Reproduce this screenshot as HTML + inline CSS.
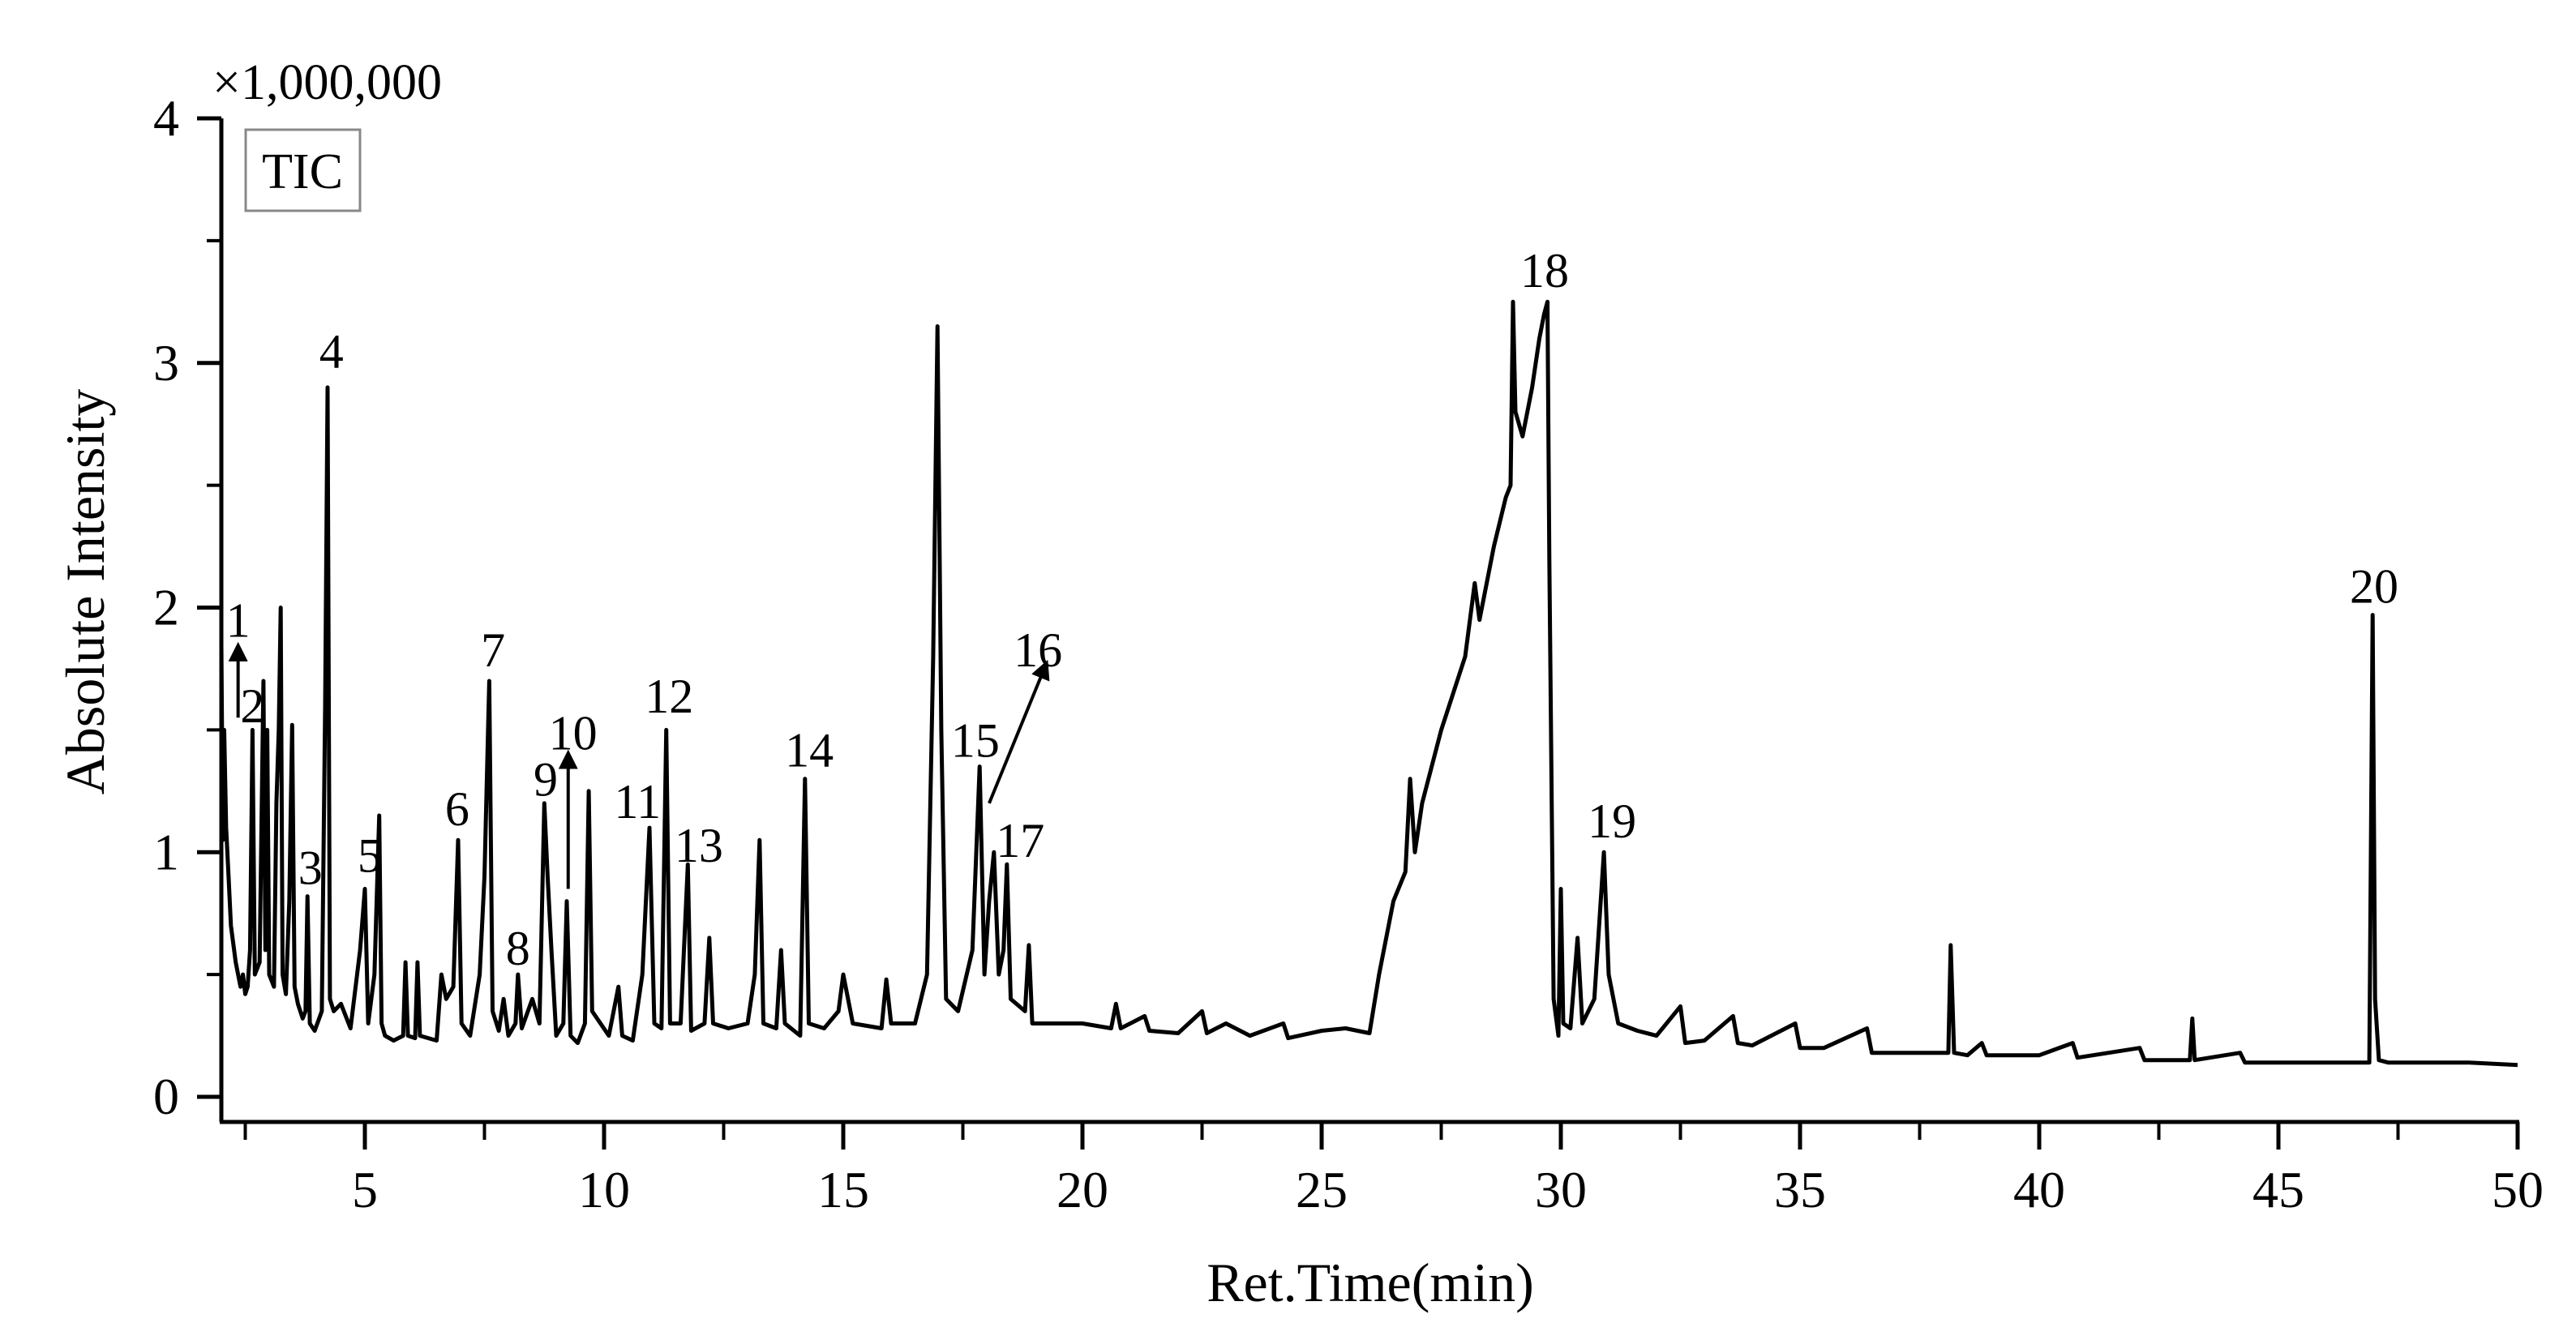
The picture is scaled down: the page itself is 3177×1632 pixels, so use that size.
<!DOCTYPE html>
<html><head><meta charset="utf-8"><style>
html,body{margin:0;padding:0;background:#fff;}
svg{display:block;font-family:"Liberation Serif",serif;}
</style></head><body>
<svg id="chart" width="3177" height="1632" viewBox="0 0 3177 1632">
<g id="axes"></g>
<g id="trace"></g>
<g id="labels"></g>
<text x="262" y="122" font-size="62">×1,000,000</text>
<rect x="303" y="160" width="141" height="100" fill="#fff" stroke="#888" stroke-width="3"/>
<text x="373" y="232" font-size="62" text-anchor="middle">TIC</text>
<text transform="translate(128,730) rotate(-90)" font-size="68" text-anchor="middle">Absolute Intensity</text>
<text x="1690" y="1605" font-size="68" text-anchor="middle">Ret.Time(min)</text>
</svg>
<script>
const xTicks=[5,10,15,20,25,30,35,40,45,50];
const yTicks=[0,1,2,3,4];
const times=[
2.0,2.03,2.06,2.1,2.15,2.2,2.3,2.4,2.45,2.5,
2.55,2.6,2.65,2.7,2.8,2.88,2.92,2.96,3.0,3.1,
3.15,3.2,3.24,3.28,3.35,3.42,3.48,3.53,3.6,3.7,
3.76,3.8,3.85,3.95,4.1,4.17,4.22,4.27,4.35,4.5,
4.7,4.9,5.0,5.07,5.2,5.3,5.35,5.42,5.6,5.8,
5.85,5.9,6.05,6.1,6.15,6.5,6.6,6.7,6.85,6.95,
7.02,7.2,7.4,7.5,7.6,7.67,7.8,7.9,8.0,8.15,
8.2,8.28,8.5,8.65,8.75,8.82,8.9,9.0,9.15,9.22,
9.3,9.45,9.6,9.68,9.75,10.1,10.3,10.38,10.6,10.8,
10.95,11.05,11.2,11.3,11.38,11.6,11.75,11.82,12.1,12.2,
12.28,12.6,13.0,13.15,13.25,13.33,13.6,13.7,13.78,14.1,
14.2,14.28,14.6,14.9,15.0,15.2,15.8,15.9,16.0,16.5,
16.75,16.88,16.97,17.05,17.15,17.4,17.7,17.85,17.95,18.05,
18.15,18.25,18.35,18.42,18.5,18.8,18.88,18.95,19.5,20.0,
20.6,20.7,20.8,21.3,21.4,22.0,22.5,22.6,23.0,23.5,
24.2,24.3,25.0,25.5,26.0,26.2,26.5,26.75,26.85,26.95,
27.1,27.5,28.0,28.2,28.3,28.6,28.85,28.95,29.0,29.05,
29.2,29.4,29.55,29.65,29.72,29.76,29.85,29.95,30.0,30.05,
30.2,30.35,30.45,30.7,30.9,31.0,31.2,31.6,32.0,32.5,
32.6,33.0,33.6,33.7,34.0,34.9,35.0,35.5,36.4,36.5,
37.5,38.1,38.15,38.22,38.5,38.8,38.9,40.0,40.7,40.8,
42.1,42.2,43.15,43.2,43.25,44.2,44.3,45.5,46.5,46.9,
46.97,47.02,47.1,47.3,48.0,49.0,50.0];
const intensity=[
1.85,1.05,1.5,1.1,0.9,0.7,0.55,0.45,0.5,0.42,
0.45,0.6,1.5,0.5,0.55,1.7,0.6,1.5,0.5,0.45,
1.2,1.5,2.0,0.5,0.42,0.8,1.52,0.45,0.38,0.32,
0.35,0.82,0.3,0.27,0.35,1.6,2.9,0.4,0.35,0.38,
0.28,0.6,0.85,0.3,0.5,1.15,0.3,0.25,0.23,0.25,
0.55,0.25,0.24,0.55,0.25,0.23,0.5,0.4,0.45,1.05,
0.3,0.25,0.5,0.9,1.7,0.35,0.27,0.4,0.25,0.3,
0.5,0.28,0.4,0.3,1.2,0.9,0.6,0.25,0.3,0.8,
0.25,0.22,0.3,1.25,0.35,0.25,0.45,0.25,0.23,0.5,
1.1,0.3,0.28,1.5,0.3,0.3,0.95,0.27,0.3,0.65,
0.3,0.28,0.3,0.5,1.05,0.3,0.28,0.6,0.3,0.25,
1.3,0.3,0.28,0.35,0.5,0.3,0.28,0.48,0.3,0.3,
0.5,1.8,3.15,1.5,0.4,0.35,0.6,1.35,0.5,0.8,
1.0,0.5,0.6,0.95,0.4,0.35,0.62,0.3,0.3,0.3,
0.28,0.38,0.28,0.33,0.27,0.26,0.35,0.26,0.3,0.25,
0.3,0.24,0.27,0.28,0.26,0.5,0.8,0.92,1.3,1.0,
1.2,1.5,1.8,2.1,1.95,2.25,2.45,2.5,3.25,2.8,
2.7,2.9,3.1,3.2,3.25,2.2,0.4,0.25,0.85,0.3,
0.28,0.65,0.3,0.4,1.0,0.5,0.3,0.27,0.25,0.37,
0.22,0.23,0.33,0.22,0.21,0.3,0.2,0.2,0.28,0.18,
0.18,0.18,0.62,0.18,0.17,0.22,0.17,0.17,0.22,0.16,
0.2,0.15,0.15,0.32,0.15,0.18,0.14,0.14,0.14,0.14,
1.97,0.4,0.15,0.14,0.14,0.14,0.13];
const peakNames=["1","2","3","4","5","6","7","8","9","10","11","12","13","14","15","16","17","18","19","20"];
const peakLabelT=[2.35,2.65,3.86,4.3,5.1,6.93,7.68,8.2,8.78,9.35,10.7,11.36,11.98,14.29,17.76,19.07,18.7,29.66,31.07,47.0];
const peakLabelV=[1.95,1.6,0.94,3.05,0.99,1.18,1.83,0.61,1.3,1.49,1.21,1.64,1.03,1.42,1.46,1.83,1.05,3.38,1.13,2.09];
const NS="http://www.w3.org/2000/svg";
const X0=273,X1=3105,YB=1384,T0=2,T1=50;
function sx(t){return X0+(t-T0)*(X1-X0)/(T1-T0);}
function sy(v){return 1353-v*301.75;}
function mk(tag,attrs,parent){const e=document.createElementNS(NS,tag);for(const k in attrs)e.setAttribute(k,attrs[k]);parent.appendChild(e);return e;}
const axes=document.getElementById('axes');
let l=mk('line',{x1:X0,y1:sy(4),x2:X0,y2:YB,stroke:'#000','stroke-width':5},axes);


l=mk('line',{x1:X0-2,y1:YB,x2:X1+2,y2:YB,stroke:'#000','stroke-width':5},axes);


for(const v of yTicks){
 const y=sy(v);
 const t=mk('line',{x1:X0-30,y1:y,x2:X0,y2:y,stroke:'#000','stroke-width':5},axes);
 
 
 const tx=mk('text',{x:X0-52,y:y+21,'font-size':64,'text-anchor':'end'},axes);tx.textContent=v;
 
 
 if(v<4){const m=mk('line',{x1:X0-18,y1:sy(v+0.5),x2:X0,y2:sy(v+0.5),stroke:'#000','stroke-width':4},axes);
 
 }
}
for(const v of xTicks){
 const x=sx(v);
 const t=mk('line',{x1:x,y1:YB,x2:x,y2:YB+34,stroke:'#000','stroke-width':5},axes);
 
 
 const tx=mk('text',{x:x,y:YB+105,'font-size':64,'text-anchor':'middle'},axes);tx.textContent=v;
 
 
 const m=mk('line',{x1:sx(v-2.5),y1:YB,x2:sx(v-2.5),y2:YB+22,stroke:'#000','stroke-width':4},axes);
 
 
}
const pts=times.map((t,i)=>sx(t).toFixed(1)+','+sy(intensity[i]).toFixed(1)).join(' ');
const pl=mk('polyline',{points:pts,fill:'none',stroke:'#000','stroke-width':5,'stroke-linejoin':'round'},document.getElementById('trace'));


const lab=document.getElementById('labels');
peakNames.forEach((n,i)=>{
 const tx=mk('text',{x:sx(peakLabelT[i]),y:sy(peakLabelV[i])+21,'font-size':60,'text-anchor':'middle'},lab);
 tx.textContent=n;
 
 
});
mk('defs',{},document.getElementById('chart')).innerHTML='<marker id="ah" markerWidth="6" markerHeight="6" refX="3" refY="3" orient="auto"><path d="M0,0 L6,3 L0,6 z" fill="#000"/></marker>';
const arrows=[[2.35,1.55,2.35,1.82],[9.25,0.85,9.25,1.38],[18.05,1.2,19.2,1.75]];
arrows.forEach((a,i)=>{
 const ar=mk('line',{x1:sx(a[0]),y1:sy(a[1]),x2:sx(a[2]),y2:sy(a[3]),stroke:'#000','stroke-width':4,'marker-end':'url(#ah)'},lab);
 
 
});
</script>
</body></html>
